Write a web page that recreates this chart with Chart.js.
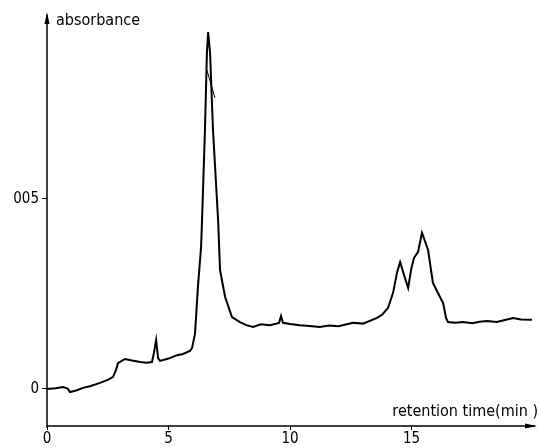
<!DOCTYPE html>
<html><head><meta charset="utf-8">
<script src="https://cdn.jsdelivr.net/npm/chart.js@4/dist/chart.umd.min.js"></script>
<style>html,body{margin:0;padding:0;background:#fff}#w{width:539px;height:448px}</style>
</head><body><div id="w"><canvas id="c"></canvas></div>
<script>
const timeMin = [0,0.35,0.66,0.85,0.95,1.2,1.48,1.8,2.18,2.5,2.72,2.84,2.92,3.21,3.5,3.83,4.1,4.32,4.40,4.49,4.57,4.65,5.0,5.35,5.6,5.88,5.97,6.09,6.21,6.34,6.38,6.50,6.58,6.63,6.71,6.83,7.04,7.12,7.33,7.61,7.94,8.2,8.48,8.8,9.18,9.55,9.63,9.71,10.0,10.41,10.8,11.23,11.6,12.0,12.59,13.0,13.58,13.8,14.03,14.24,14.40,14.53,14.69,14.86,14.98,15.10,15.27,15.43,15.68,15.88,16.17,16.30,16.42,16.50,16.8,17.12,17.5,17.8,18.11,18.5,18.8,19.18,19.5,19.96];
const absorbance = [0,0.0002,0.0005,0.0001,-0.0008,-0.0004,0.0003,0.0008,0.0016,0.0024,0.0032,0.0050,0.0068,0.0079,0.0075,0.0071,0.0069,0.0071,0.0095,0.0129,0.0082,0.0074,0.0080,0.0089,0.0092,0.0100,0.0108,0.0145,0.0268,0.0374,0.0445,0.0682,0.0884,0.0939,0.0884,0.0682,0.0445,0.0313,0.0242,0.0189,0.0176,0.0168,0.0163,0.0170,0.0168,0.0174,0.0192,0.0174,0.0171,0.0168,0.0166,0.0163,0.0167,0.0165,0.0174,0.0172,0.0187,0.0196,0.0213,0.0253,0.0305,0.0334,0.0300,0.0266,0.0313,0.0345,0.0361,0.0411,0.0366,0.0279,0.0242,0.0226,0.0187,0.0176,0.0174,0.0176,0.0173,0.0177,0.0179,0.0176,0.0181,0.0187,0.0183,0.0182];
const shoulderTime = [6.58, 6.91];
const shoulderAbs = [0.0839, 0.0766];
const xTicks = [0,5,10,15];
const xTickLabels = ['0','5','10','15'];
const yTicks = [0,0.05];
const yTickLabels = ['0','005'];
const yTitle = 'absorbance';
const xTitle = 'retention time(min )';

const FONT = '"DejaVu Sans Condensed", "DejaVu Sans", sans-serif';
const toPts = (xs, ys) => xs.map((x,i)=>({x:x,y:ys[i]}));

const axesPlugin = {
  id:'axesArrows',
  afterDraw(chart){
    const {ctx, chartArea:a} = chart;
    ctx.save();
    ctx.strokeStyle='#000'; ctx.fillStyle='#000'; ctx.lineWidth=1.5;
    ctx.beginPath(); ctx.moveTo(a.left, a.bottom+2); ctx.lineTo(a.left, a.top); ctx.stroke();
    ctx.beginPath(); ctx.moveTo(a.left, a.bottom); ctx.lineTo(a.right, a.bottom); ctx.stroke();
    ctx.beginPath(); ctx.moveTo(a.left, a.top-3); ctx.lineTo(a.left-2.5, a.top+9); ctx.lineTo(a.left+2.5, a.top+9); ctx.closePath(); ctx.fill();
    ctx.beginPath(); ctx.moveTo(a.right+2, a.bottom); ctx.lineTo(a.right-10, a.bottom-2.5); ctx.lineTo(a.right-10, a.bottom+2.5); ctx.closePath(); ctx.fill();
    ctx.font = '16px ' + FONT;
    ctx.textBaseline='middle'; ctx.textAlign='left';
    ctx.fillText(yTitle, a.left+9, a.top+6);
    ctx.textAlign='right';
    ctx.fillText(xTitle, a.right+3, a.bottom-14);
    ctx.restore();
  }
};

new Chart(document.getElementById('c'), {
  type:'scatter',
  data:{datasets:[
    {data:toPts(timeMin, absorbance), showLine:true, borderColor:'#000', borderWidth:2, pointRadius:0, tension:0, fill:false},
    {data:toPts(shoulderTime, shoulderAbs), showLine:true, borderColor:'#000', borderWidth:1, pointRadius:0, tension:0, fill:false}
  ]},
  options:{
    responsive:true, maintainAspectRatio:false, animation:false,
    layout:{padding:{top:15,right:4,left:0,bottom:0}},
    plugins:{legend:{display:false}, tooltip:{enabled:false}},
    scales:{
      x:{type:'linear', min:0, max:20.08,
        afterFit(s){s.height=22;},
        afterBuildTicks(s){s.ticks = xTicks.map(v=>({value:v}));},
        border:{display:false},
        grid:{drawOnChartArea:false, drawTicks:true, tickLength:4, color:'#000', lineWidth:1},
        ticks:{color:'#000', font:{family:FONT,size:15}, padding:0, maxRotation:0,
          callback:(v)=>{const i=xTicks.indexOf(v); return i>=0?xTickLabels[i]:'';}}
      },
      y:{type:'linear', min:-0.00974, max:0.0984,
        afterFit(s){s.width=47;},
        afterBuildTicks(s){s.ticks = yTicks.map(v=>({value:v}));},
        border:{display:false},
        grid:{drawOnChartArea:false, drawTicks:true, tickLength:5, color:'#000', lineWidth:1},
        ticks:{color:'#000', font:{family:FONT,size:15}, padding:3,
          callback:(v)=>{const i=yTicks.indexOf(v); return i>=0?yTickLabels[i]:'';}}
      }
    }
  },
  plugins:[axesPlugin]
});
</script></body></html>
